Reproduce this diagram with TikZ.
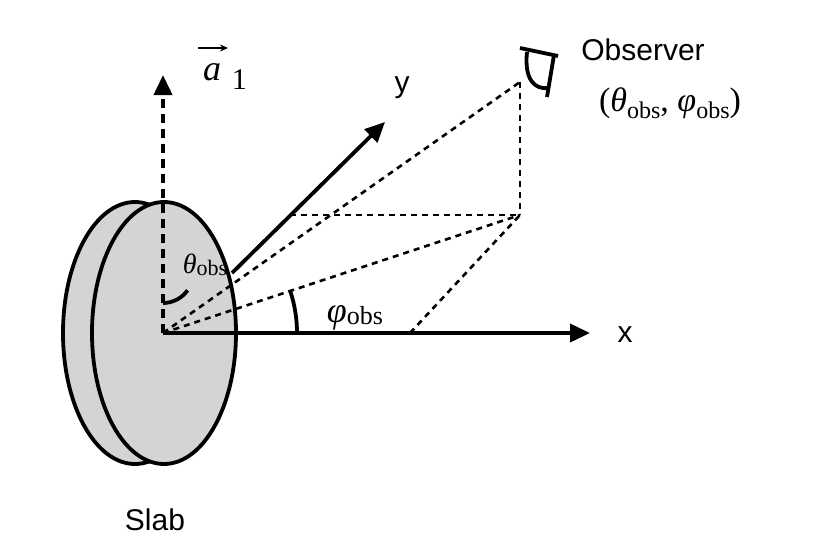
\documentclass[tikz,border=0pt]{standalone}
\usepackage{fontspec}
\setmainfont{Liberation Serif}
\newfontfamily\arial{Liberation Sans}
\usetikzlibrary{arrows.meta}
\newcommand{\gsym}[3]{{\fontsize{#2}{#2}\selectfont\itshape #1}\raisebox{-0.2em}{\fontsize{#3}{#3}\selectfont obs}}
\begin{document}
\begin{tikzpicture}[x=1pt,y=-1pt,line width=3.8pt,
  ax/.style={-{Triangle[length=20pt,width=18pt]}},
  dl/.style={line width=2.6pt,dash pattern=on 6pt off 5pt},
  lab/.style={font=\arial\fontsize{30}{30}\selectfont,inner sep=0pt}]
\useasboundingbox (0,0) rectangle (830,554);
\coordinate (O) at (163,333);
\coordinate (P) at (520,82);
\coordinate (Q) at (520,215);
\coordinate (Y2) at (290,215);
\coordinate (X2) at (410,333);
\draw[fill=black!17] (135,333) ellipse [x radius=72,y radius=131];
\draw[fill=black!17] (164,333) ellipse [x radius=72,y radius=131];
\draw[line width=3.8pt,dash pattern=on 9pt off 6pt,-{Triangle[length=20pt,width=18pt]}] (O) -- (163,75);
\draw[ax] (232,273) -- (385,122);
\draw[ax] (O) -- (590,333);
\draw[dl] (O) -- (P);
\draw[dl] (P) -- (Q);
\draw[dl] (Y2) -- (Q);
\draw[dl] (O) -- (Q);
\draw[dl] (X2) -- (Q);
\draw (163,303) arc[start angle=90,end angle=35.1,radius=30];
\draw (297,333) arc[start angle=0,end angle=-17.9,radius=134];
% eye
\draw (520,48) -- (558,56);
\draw (527,52) .. controls (524,80) and (535,90) .. (549,88);
\draw (554,55) -- (547,97);
\node[lab] (obs) at (643,50) {Observer};
\node[inner sep=0pt,font=\fontsize{34}{34}\selectfont] (coords) at (670,103) {(\gsym{θ}{34}{24}, \gsym{φ}{34}{24})};
\node[lab] (slab) at (155,520) {Slab};
\node[lab] (xl) at (625,335) {x};
\node[lab] (yl) at (402,88) {y};
\node[inner sep=0pt,font=\fontsize{36}{36}\selectfont\itshape] (al) at (212,72) {a};
\node[inner sep=0pt,font=\fontsize{30}{30}\selectfont,anchor=west] (al1) at (230,80) {1};
\draw[line width=1.6pt,-{Stealth[length=8pt,width=7pt]}] (198,48) -- (228,48);
\node[inner sep=0pt] (tl) at (205,265) {\gsym{θ}{28}{22}};
\node[inner sep=0pt] (pl) at (355,318) {\gsym{φ}{36}{26}};
\end{tikzpicture}
\end{document}
